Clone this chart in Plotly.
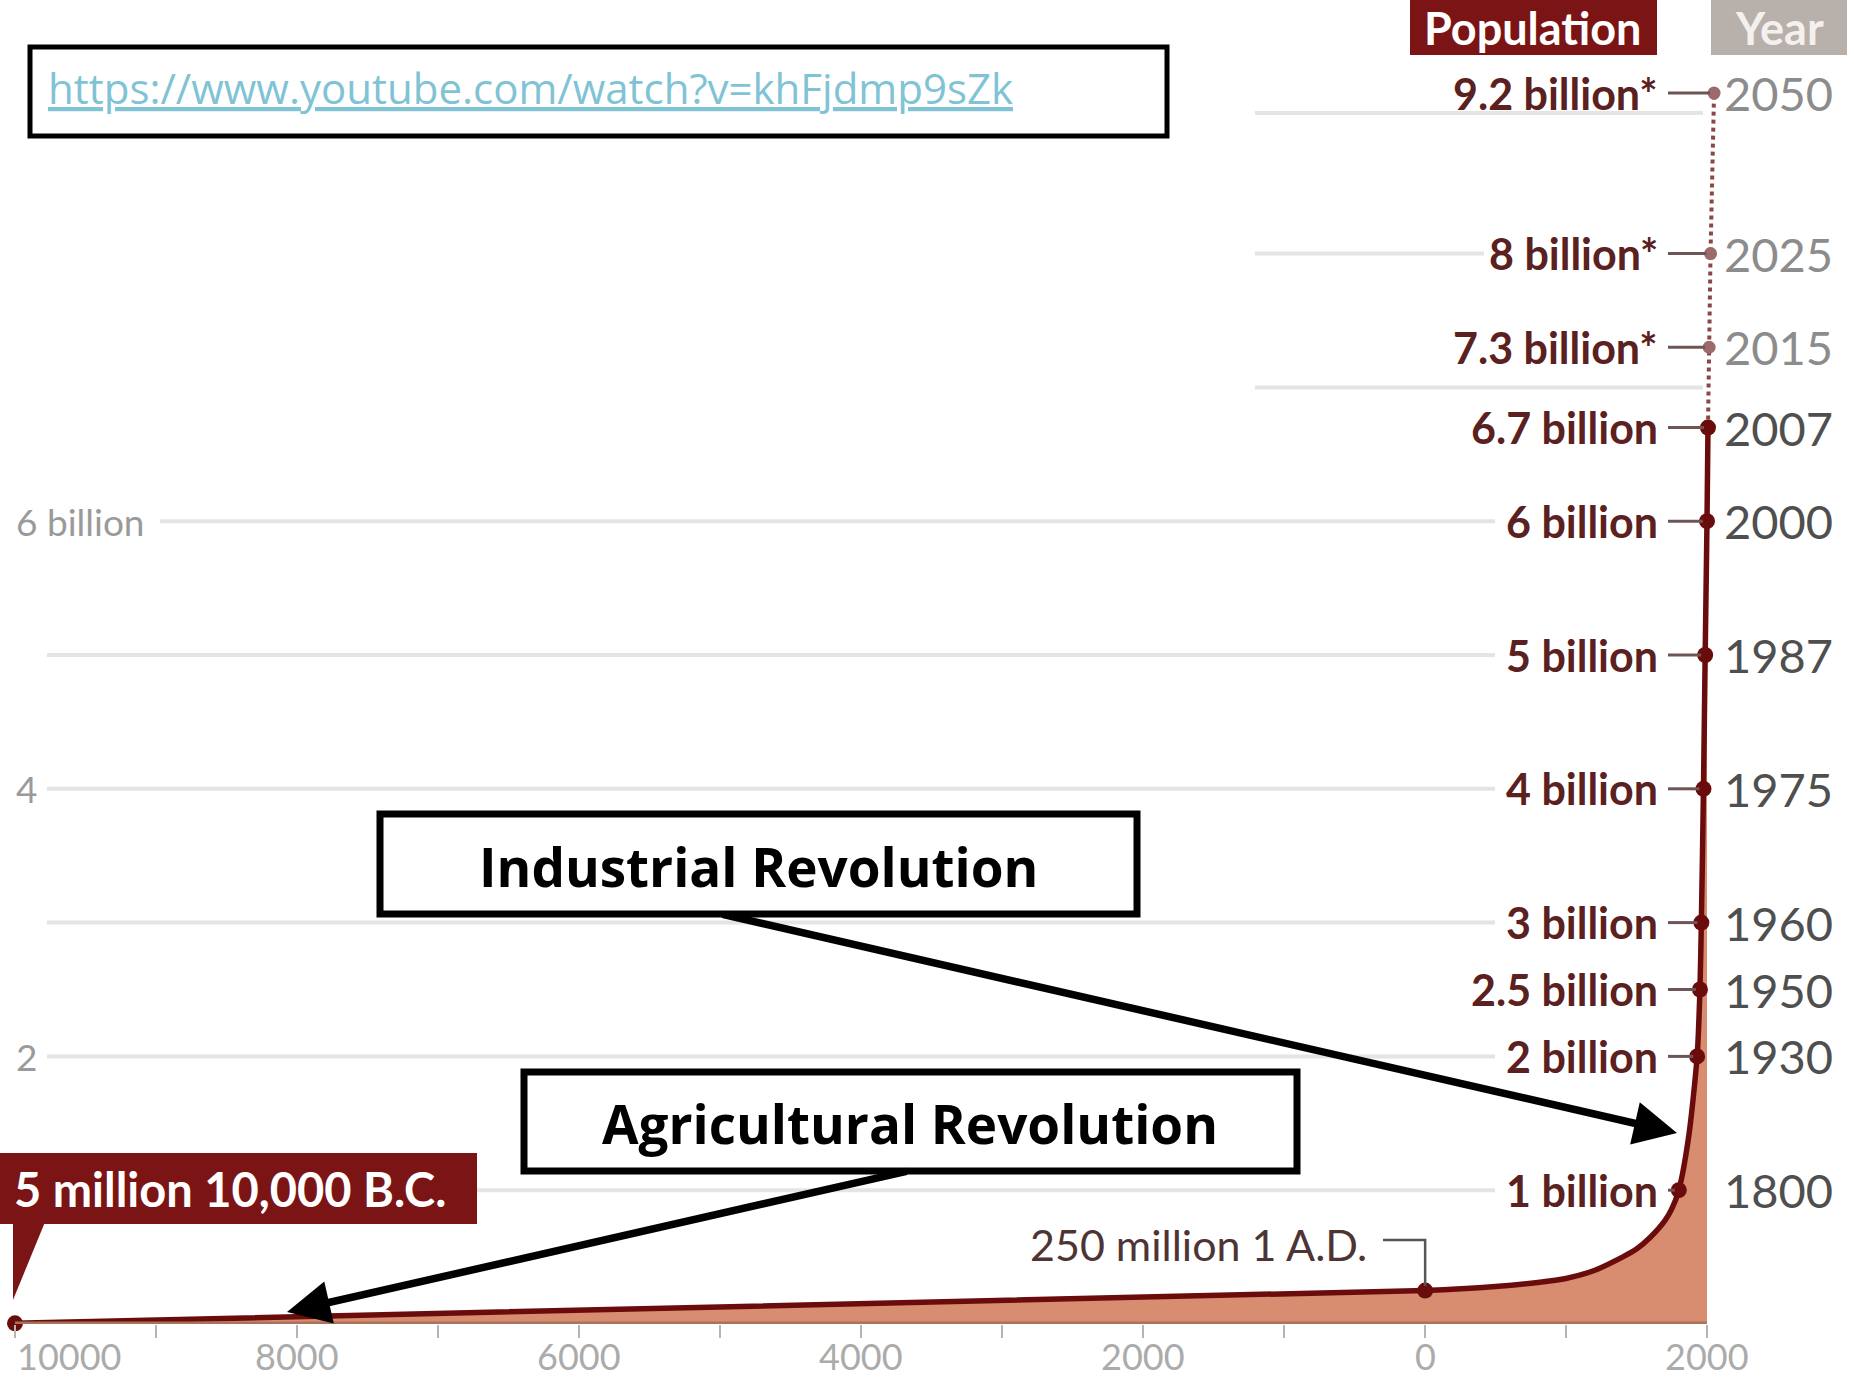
import plotly.graph_objects as go

W, H = 1854, 1382

# ---------------- data ----------------
hist_years = [-10000, 1, 500, 800, 1000, 1200, 1400, 1500, 1600, 1700, 1750, 1800, 1870,
              1930, 1950, 1960, 1975, 1987, 2000, 2007]
hist_pop = [0.005, 0.25, 0.28, 0.31, 0.34, 0.40, 0.50, 0.56, 0.65, 0.77, 0.86, 1.0, 1.4,
            2.0, 2.5, 3.0, 4.0, 5.0, 6.0, 6.7]

dot_years = [-10000, 1, 1800, 1930, 1950, 1960, 1975, 1987, 2000, 2007]
dot_pop = [0.005, 0.25, 1.0, 2.0, 2.5, 3.0, 4.0, 5.0, 6.0, 6.7]

proj_years = [2007, 2015, 2025, 2050]
proj_pop = [6.7, 7.3, 8.0, 9.2]

label_years = [1800, 1930, 1950, 1960, 1975, 1987, 2000, 2007, 2015, 2025, 2050]
label_pop = [1.0, 2.0, 2.5, 3.0, 4.0, 5.0, 6.0, 6.7, 7.3, 8.0, 9.2]
pop_text = ["1 billion", "2 billion", "2.5 billion", "3 billion", "4 billion", "5 billion",
            "6 billion", "6.7 billion", "7.3 billion*", "8 billion*", "9.2 billion*"]
year_text = ["1800", "1930", "1950", "1960", "1975", "1987", "2000", "2007", "2015", "2025", "2050"]
projected = [False, False, False, False, False, False, False, False, True, True, True]

tick_years = [-10000, -9000, -8000, -7000, -6000, -5000, -4000, -3000, -2000, -1000, 0, 1000, 2000]
tick_labels = ["10000", "", "8000", "", "6000", "", "4000", "", "2000", "", "0", "", "2000"]

left_grid_pop = [1, 2, 3, 4, 5, 6]
top_grid_pop = [7.0, 8.0, 9.05]
left_axis_pop = [6, 4, 2]
left_axis_text = ["6 billion", "4", "2"]

start_text = "5 million 10,000 B.C."
ad_text = "250 million 1 A.D."
url_text = "https://www.youtube.com/watch?v=khFjdmp9sZk"
ind_text = "Industrial Revolution"
agr_text = "Agricultural Revolution"

# ---------------- geometry ----------------
X0_YEAR, X0_PX, PX_PER_YEAR = -10000, 15.0, 0.141
BASE_PX, PX_PER_B = 1324.0, 133.8
xr = [X0_YEAR - X0_PX / PX_PER_YEAR, X0_YEAR + (W - X0_PX) / PX_PER_YEAR]
yr = [0, BASE_PX / PX_PER_B]


def px(xp):
    return xp / W


def py(yp):
    return 1 - yp / H


def x2px(year):
    return X0_PX + (year - X0_YEAR) * PX_PER_YEAR


DARK = "#6b0c0c"
BOXRED = "#7b1515"
FILL = "#d98d70"
POPC = "#5b2020"

fig = go.Figure()

fill_x = [y for y in hist_years if y <= 2000]
fill_y = hist_pop[:len(fill_x)]
fig.add_trace(go.Scatter(x=fill_x, y=fill_y, mode="lines", fill="tozeroy",
                         fillcolor=FILL, line=dict(width=0, shape="spline", smoothing=0.7),
                         hoverinfo="skip", cliponaxis=False))
fig.add_trace(go.Scatter(x=proj_years, y=proj_pop, mode="lines+markers",
                         line=dict(color="#8a4747", width=4, dash="dot"),
                         marker=dict(size=13, color="#9c6a6a"), cliponaxis=False))
fig.add_trace(go.Scatter(x=hist_years, y=hist_pop, mode="lines",
                         line=dict(color=DARK, width=5.5, shape="spline", smoothing=0.7),
                         cliponaxis=False))
fig.add_trace(go.Scatter(x=dot_years, y=dot_pop, mode="markers",
                         marker=dict(size=16, color=DARK), cliponaxis=False))

shapes = []
ann = []

# grid lines
grid_left_start = {6: 160}
for g in left_grid_pop:
    shapes.append(dict(type="line", xref="paper", yref="y", layer="below",
                       x0=px(grid_left_start.get(g, 47)), x1=px(1495), y0=g, y1=g,
                       line=dict(color="#e4e4e4", width=4)))
top_ends = {7.0: 1703, 8.0: 1484, 9.05: 1703}
for g in top_grid_pop:
    shapes.append(dict(type="line", xref="paper", yref="y", layer="below",
                       x0=px(1255), x1=px(top_ends[g]), y0=g, y1=g,
                       line=dict(color="#e4e4e4", width=4)))

# baseline band
shapes.append(dict(type="line", xref="x", yref="y", layer="above",
                   x0=hist_years[0], x1=2000, y0=0, y1=0,
                   line=dict(color="#a9735b", width=5)))

# left axis labels
for v, t in zip(left_axis_pop, left_axis_text):
    ann.append(dict(xref="paper", yref="y", x=px(14), y=v, text=t, showarrow=False,
                    xanchor="left", yanchor="middle",
                    font=dict(family="Lato", size=37, color="#9a9a9a")))

# right labels + connectors
LABEL_R = 1660
for yv, pv, pt, yt, pj in zip(label_years, label_pop, pop_text, year_text, projected):
    ann.append(dict(xref="paper", yref="y", x=px(LABEL_R), y=pv, text="<b>%s</b>" % pt,
                    showarrow=False, xanchor="right", yanchor="middle",
                    font=dict(family="Lato", size=43, color=POPC)))
    ann.append(dict(xref="paper", yref="y", x=px(1722), y=pv, text=yt,
                    showarrow=False, xanchor="left", yanchor="middle",
                    font=dict(family="Lato", size=47, color="#8c8c8c" if pj else "#4f4f4f")))
    shapes.append(dict(type="line", xref="paper", yref="y",
                       x0=px(LABEL_R + 8), x1=px(x2px(yv) - 4), y0=pv, y1=pv,
                       line=dict(color="#6e5555", width=3)))

# 250 million label
ad_x = x2px(dot_years[1])
ann.append(dict(xref="paper", yref="paper", x=px(1369), y=py(1244), text=ad_text,
                showarrow=False, xanchor="right", yanchor="middle",
                font=dict(family="Lato", size=43, color="#4e3434")))
shapes.append(dict(type="path", xref="paper", yref="paper",
                   path="M %f,%f L %f,%f L %f,%f" % (px(1383), py(1240), px(ad_x), py(1240),
                                                     px(ad_x), py(1286)),
                   line=dict(color="#555555", width=2.5)))

# 5 million box with pointer
shapes.append(dict(type="rect", xref="paper", yref="paper", x0=px(0), x1=px(477),
                   y0=py(1224), y1=py(1153), fillcolor=BOXRED, line=dict(width=0)))
shapes.append(dict(type="path", xref="paper", yref="paper",
                   path="M %f,%f L %f,%f L %f,%f Z" % (px(13), py(1222), px(45), py(1222),
                                                       px(13), py(1300)),
                   fillcolor=BOXRED, line=dict(width=0)))
ann.append(dict(xref="paper", yref="paper", x=px(12), y=py(1189), text="<b>%s</b>" % start_text,
                showarrow=False, xanchor="left", yanchor="middle",
                font=dict(family="Lato", size=47, color="white")))

# Population / Year header boxes
shapes.append(dict(type="rect", xref="paper", yref="paper", x0=px(1410), x1=px(1657),
                   y0=py(55), y1=py(0), fillcolor=BOXRED, line=dict(width=0)))
shapes.append(dict(type="rect", xref="paper", yref="paper", x0=px(1711), x1=px(1847),
                   y0=py(55), y1=py(0), fillcolor="#b8b0ab", line=dict(width=0)))
ann.append(dict(xref="paper", yref="paper", x=px(1533), y=py(28), text="<b>Population</b>",
                showarrow=False, xanchor="center", yanchor="middle",
                font=dict(family="Lato", size=45, color="white")))
ann.append(dict(xref="paper", yref="paper", x=px(1779), y=py(28), text="<b>Year</b>",
                showarrow=False, xanchor="center", yanchor="middle",
                font=dict(family="Lato", size=45, color="#f4f0ee")))

# URL box
shapes.append(dict(type="rect", xref="paper", yref="paper", x0=px(30), x1=px(1167),
                   y0=py(136), y1=py(47), fillcolor="white", line=dict(color="black", width=5)))
ann.append(dict(xref="paper", yref="paper", x=px(46), y=py(88), text=url_text,
                showarrow=False, xanchor="left", yanchor="middle",
                font=dict(family="Open Sans", size=42, color="#7fc3d5", lineposition="under")))

# revolution boxes
shapes.append(dict(type="rect", xref="paper", yref="paper", x0=px(380), x1=px(1137),
                   y0=py(914), y1=py(814), fillcolor="white", line=dict(color="black", width=7)))
ann.append(dict(xref="paper", yref="paper", x=px(758), y=py(866), text="<b>%s</b>" % ind_text,
                showarrow=False, xanchor="center", yanchor="middle",
                font=dict(family="Open Sans", size=53, color="black")))
shapes.append(dict(type="rect", xref="paper", yref="paper", x0=px(524), x1=px(1297),
                   y0=py(1171), y1=py(1072), fillcolor="white", line=dict(color="black", width=7)))
ann.append(dict(xref="paper", yref="paper", x=px(910), y=py(1123), text="<b>%s</b>" % agr_text,
                showarrow=False, xanchor="center", yanchor="middle",
                font=dict(family="Open Sans", size=53, color="black")))

# arrows
ann.append(dict(xref="paper", yref="paper", x=px(1677), y=py(1133), text="",
                showarrow=True, ax=721 - 1677, ay=914 - 1133, arrowhead=2, arrowwidth=7.5,
                arrowsize=1.15, arrowcolor="black", standoff=0))
ann.append(dict(xref="paper", yref="paper", x=px(287), y=py(1312), text="",
                showarrow=True, ax=908 - 287, ay=1171 - 1312, arrowhead=2, arrowwidth=7.5,
                arrowsize=1.15, arrowcolor="black", standoff=0))

# x tick labels (placed as text so they sit just under the short ticks)
for i, (tv, tl) in enumerate(zip(tick_years, tick_labels)):
    if tl:
        ann.append(dict(xref="x", yref="paper", x=tv, y=py(1356), text=tl,
                        showarrow=False, xanchor="left" if i == 0 else "center",
                        yanchor="middle",
                        font=dict(family="Lato", size=36, color="#ababab")))

fig.update_layout(
    width=W, height=H, autosize=False,
    margin=dict(l=0, r=0, t=0, b=0, pad=0),
    paper_bgcolor="white", plot_bgcolor="rgba(0,0,0,0)",
    showlegend=False,
    shapes=shapes, annotations=ann,
    xaxis=dict(range=xr, domain=[0, 1], tickvals=tick_years, showticklabels=False,
               ticks="outside", ticklen=13, tickwidth=2,
               tickcolor="#b5b5b5", showgrid=False, zeroline=False, showline=False,
               fixedrange=True),
    yaxis=dict(range=yr, domain=[(H - BASE_PX) / H, 1], visible=False, showgrid=False,
               zeroline=False, fixedrange=True),
)

fig.write_html(
    "out.html",
    config={"displayModeBar": False},
    post_script="document.documentElement.style.margin='0';"
                "document.body.style.margin='0';document.body.style.overflow='hidden';",
)
